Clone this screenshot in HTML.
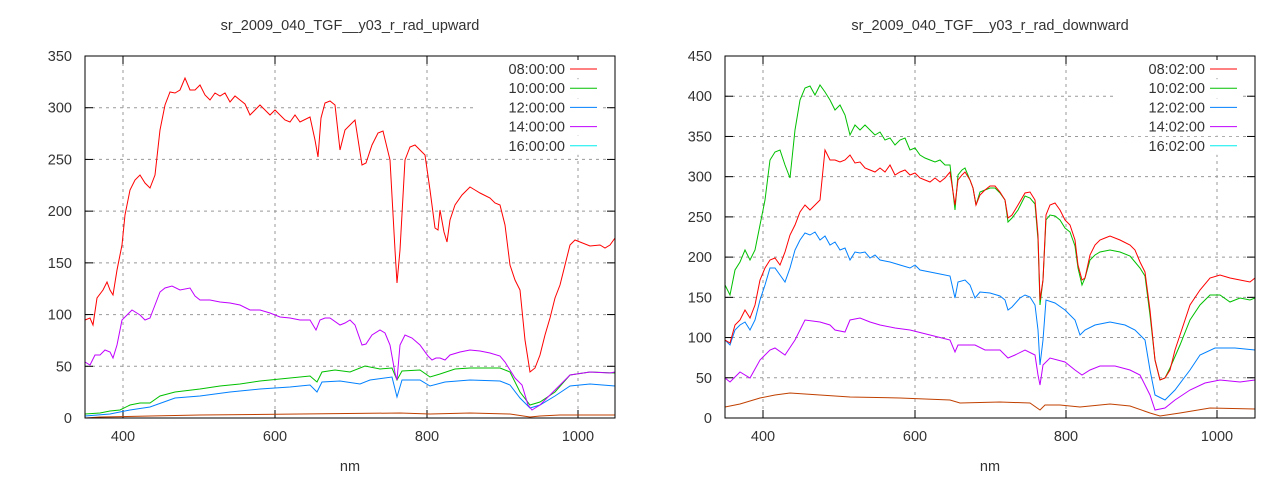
<!DOCTYPE html>
<html><head><meta charset="utf-8"><style>
body{margin:0;background:#fff}
svg text{font-family:"Liberation Sans",sans-serif;font-size:14.5px;fill:#333}
</style></head><body>
<svg id="s" width="1280" height="480" xmlns="http://www.w3.org/2000/svg"></svg>
<script>
const S=document.getElementById('s');let h='';
function axes(x0,x1,ymax,step,title,xt,labels){
 const y0=418,yt=56,W=x1-x0;
 const ys=(yt-y0)/ymax;
 for(let v=0;v<=ymax;v+=step){const y=y0+v*ys;
  if(v>0&&v<ymax)h+=`<line x1="${x0}" x2="${x1}" y1="${y}" y2="${y}" stroke="#999" stroke-dasharray="3,4"/>`;
  h+=`<line x1="${x0}" x2="${x0+8}" y1="${y}" y2="${y}" stroke="#000"/><line x1="${x1-8}" x2="${x1}" y1="${y}" y2="${y}" stroke="#000"/>`;
  h+=`<text x="${x0-13}" y="${y+5}" text-anchor="end">${v}</text>`;}
 xt.forEach((x,i)=>{h+=`<line x1="${x}" x2="${x}" y1="${yt}" y2="${y0}" stroke="#999" stroke-dasharray="3,4"/>`;
  h+=`<line x1="${x}" x2="${x}" y1="${y0}" y2="${y0-8}" stroke="#000"/><line x1="${x}" x2="${x}" y1="${yt}" y2="${yt+8}" stroke="#000"/>`;
  h+=`<text x="${x}" y="${y0+23}" text-anchor="middle">${400+200*i}</text>`;});
 h+=`<text x="${(x0+x1)/2}" y="30" text-anchor="middle">${title}</text>`;
 h+=`<text x="${(x0+x1)/2}" y="471" text-anchor="middle">nm</text>`;
 const lc=['#ff0000','#00c000','#0080ff','#c000ff','#00eeee'];
 labels.forEach((l,i)=>{const y=69+i*19.2;h+=`<rect x="${x1-140}" y="${y-9}" width="125" height="18" fill="#fff"/><text x="${x1-50}" y="${y+5}" text-anchor="end">${l}</text><line x1="${x1-45}" x2="${x1-18}" y1="${y}" y2="${y}" stroke="${lc[i]}"/>`;});
}
function pl(p,c){h+=`<polyline fill="none" stroke="${c}" stroke-width="1" points="${p.map(q=>q.join(',')).join(' ')}"/>`;}
const T=s=>s.trim().split(/\)\s*,?\s*\(/).map(t=>t.replace(/[()]/g,'').split(',').map(Number));
axes(85,615,350,50,'sr_2009_040_TGF__y03_r_rad_upward',[123,275,427,578],['08:00:00','10:00:00','12:00:00','14:00:00','16:00:00']);
axes(725,1255,450,50,'sr_2009_040_TGF__y03_r_rad_downward',[763,915,1066,1217],['08:02:00','10:02:00','12:02:00','14:02:00','16:02:00']);
pl(T("(85,418),(100,417),(150,416),(200,415),(300,414),(400,413),(430,414),(470,413),(510,414),(530,417),(540,416),(560,415),(615,415)"),'#c04000');
pl(T("(85,416),(110,414),(130,410),(150,407),(175,398),(200,396),(230,392),(260,389),(290,387),(310,385),(317,392),(322,382),(340,381),(360,384),(370,380),(392,377),(397,397),(402,380),(420,380),(430,386),(445,382),(470,380),(500,381),(510,385),(520,398),(530,408),(540,405),(555,396),(570,386),(590,384),(615,386)"),'#0080ff');
pl(T("(85,414),(100,413),(110,411),(120,410),(130,405),(140,403),(150,403),(160,396),(175,392),(200,389),(220,386),(240,384),(260,381),(280,379),(310,376),(317,382),(322,372),(335,370),(350,372),(365,366),(380,369),(392,368),(397,380),(402,371),(420,370),(430,377),(440,374),(455,369),(470,368),(500,368),(510,372),(520,392),(530,405),(540,402),(555,392),(570,375),(590,372),(615,373)"),'#00c000');
pl(T("(85,362),(90,365),(95,355),(100,355),(105,350),(110,352),(113,358),(117,345),(122,320),(127,315),(132,310),(140,315),(145,320),(150,318),(155,305),(160,292),(165,288),(172,286),(180,290),(190,288),(195,296),(200,300),(210,300),(220,302),(230,303),(240,305),(250,310),(260,310),(270,313),(280,317),(290,318),(300,320),(310,320),(316,330),(320,320),(325,318),(330,318),(340,325),(345,323),(350,320),(355,325),(362,345),(366,344),(372,335),(380,330),(385,333),(390,345),(395,373),(397,380),(400,345),(405,335),(412,338),(420,345),(428,356),(432,360),(436,358),(440,358),(445,360),(450,355),(460,352),(470,350),(480,351),(490,353),(500,356),(505,362),(515,378),(522,385),(528,405),(532,410),(540,405),(550,395),(560,385),(570,375),(590,372),(610,373),(615,372)"),'#c000ff');
pl(T("(85,320),(90,318),(93,325),(97,298),(103,290),(107,282),(110,290),(113,295),(117,270),(122,245),(125,215),(130,190),(135,180),(140,175),(145,183),(150,188),(155,175),(160,130),(165,105),(170,92),(175,93),(180,90),(185,78),(190,90),(195,90),(200,85),(205,95),(210,100),(215,93),(220,96),(225,93),(230,102),(235,96),(240,100),(245,104),(250,115),(255,110),(260,105),(265,110),(270,115),(275,110),(280,115),(285,120),(290,122),(295,115),(300,122),(310,117),(315,140),(318,157),(321,118),(325,103),(330,101),(335,105),(340,150),(345,130),(350,125),(355,120),(362,165),(366,163),(372,145),(378,133),(383,131),(390,160),(395,250),(397,283),(400,250),(405,160),(410,147),(415,145),(420,150),(425,155),(430,190),(435,228),(438,230),(440,210),(444,232),(447,242),(450,220),(455,205),(462,195),(470,187),(475,190),(480,193),(490,198),(495,203),(500,205),(505,225),(510,265),(515,280),(520,290),(525,340),(530,372),(535,368),(540,355),(545,335),(550,318),(555,298),(560,285),(565,265),(570,245),(575,240),(580,242),(590,246),(600,245),(605,248),(610,245),(615,238)"),'#ff0000');
pl(T("(725,407),(740,404),(760,398),(775,395),(790,393),(820,395),(850,397),(900,398),(950,400),(960,403),(1000,402),(1030,403),(1040,410),(1045,405),(1060,405),(1080,407),(1110,404),(1130,406),(1150,413),(1160,416),(1180,413),(1210,408),(1255,409)"),'#c04000');
pl(T("(725,378),(730,382),(740,372),(750,378),(760,360),(770,350),(775,348),(785,355),(795,340),(805,320),(820,322),(830,325),(835,330),(845,332),(850,320),(860,318),(870,322),(880,325),(895,328),(910,330),(930,335),(950,340),(955,352),(958,345),(975,345),(985,350),(1000,350),(1008,358),(1015,355),(1025,350),(1035,355),(1038,375),(1040,385),(1043,365),(1050,358),(1065,362),(1075,370),(1082,375),(1090,370),(1100,366),(1115,366),(1130,370),(1140,375),(1150,395),(1155,410),(1165,408),(1175,400),(1190,390),(1205,383),(1220,380),(1240,382),(1255,380)"),'#c000ff');
pl(T("(725,340),(730,345),(735,330),(740,325),(745,322),(750,330),(755,320),(760,300),(765,285),(770,268),(775,268),(780,275),(785,282),(790,268),(795,250),(800,240),(805,233),(810,235),(815,232),(820,240),(825,236),(830,245),(835,242),(840,250),(845,248),(850,260),(855,252),(860,253),(865,252),(870,258),(875,255),(880,260),(890,262),(900,265),(910,268),(915,265),(920,270),(930,272),(940,274),(950,276),(955,298),(958,282),(965,280),(970,285),(975,298),(980,292),(990,293),(1000,296),(1005,300),(1008,310),(1012,307),(1020,298),(1025,295),(1030,297),(1035,305),(1038,330),(1040,365),(1043,340),(1046,300),(1055,303),(1065,310),(1075,320),(1080,335),(1085,330),(1095,325),(1110,322),(1125,325),(1135,330),(1145,340),(1150,370),(1155,395),(1165,400),(1175,390),(1190,370),(1200,355),(1215,348),(1235,348),(1255,350)"),'#0080ff');
pl(T("(725,285),(730,295),(735,270),(740,262),(745,250),(750,260),(755,250),(760,225),(765,200),(770,160),(775,152),(780,150),(785,165),(790,178),(795,130),(800,100),(805,88),(810,86),(815,95),(820,85),(825,92),(830,100),(835,110),(840,105),(845,115),(850,135),(855,125),(860,130),(865,125),(870,130),(875,135),(880,132),(885,140),(890,138),(895,145),(900,140),(905,138),(910,150),(915,148),(920,155),(925,158),(930,160),(935,162),(940,160),(945,165),(950,165),(955,210),(958,175),(962,170),(965,168),(970,180),(973,188),(976,205),(980,192),(985,190),(990,188),(995,188),(1000,193),(1005,200),(1008,222),(1012,218),(1018,210),(1025,196),(1030,198),(1035,204),(1038,240),(1040,305),(1043,280),(1046,220),(1050,215),(1055,216),(1060,220),(1065,228),(1070,232),(1075,246),(1078,268),(1082,285),(1085,278),(1090,260),(1095,255),(1100,252),(1110,250),(1120,252),(1130,256),(1135,262),(1140,268),(1145,276),(1150,315),(1155,360),(1160,380),(1165,378),(1170,368),(1180,345),(1190,320),(1200,305),(1210,295),(1220,295),(1230,302),(1240,298),(1250,300),(1255,298)"),'#00c000');
pl(T("(725,340),(730,343),(735,325),(740,320),(745,310),(750,318),(755,305),(760,280),(765,268),(770,260),(775,258),(780,265),(785,252),(790,235),(795,225),(800,212),(805,205),(810,210),(815,205),(820,200),(825,150),(830,160),(835,160),(840,162),(845,160),(850,155),(855,163),(860,162),(865,168),(870,170),(875,172),(880,168),(885,172),(890,165),(895,175),(900,172),(905,170),(910,175),(915,173),(920,178),(925,180),(930,182),(935,178),(940,182),(945,178),(950,172),(955,205),(958,180),(962,175),(965,172),(970,180),(973,188),(976,205),(980,195),(985,190),(990,186),(995,186),(1000,192),(1005,200),(1008,218),(1012,215),(1018,205),(1025,193),(1030,192),(1035,200),(1038,235),(1040,300),(1043,280),(1046,215),(1050,205),(1055,203),(1060,210),(1065,220),(1070,225),(1075,240),(1078,265),(1082,280),(1085,278),(1090,255),(1095,245),(1100,240),(1105,238),(1110,236),(1120,240),(1130,245),(1135,250),(1140,262),(1145,272),(1150,310),(1155,360),(1160,380),(1165,378),(1170,370),(1175,350),(1180,335),(1185,320),(1190,305),(1200,290),(1210,278),(1220,275),(1230,278),(1240,280),(1250,282),(1255,278)"),'#ff0000');
h+=`<rect x="85" y="56" width="530" height="362" fill="none" stroke="#000"/><rect x="725" y="56" width="530" height="362" fill="none" stroke="#000"/>`;
S.innerHTML=h;
</script>
</body></html>
